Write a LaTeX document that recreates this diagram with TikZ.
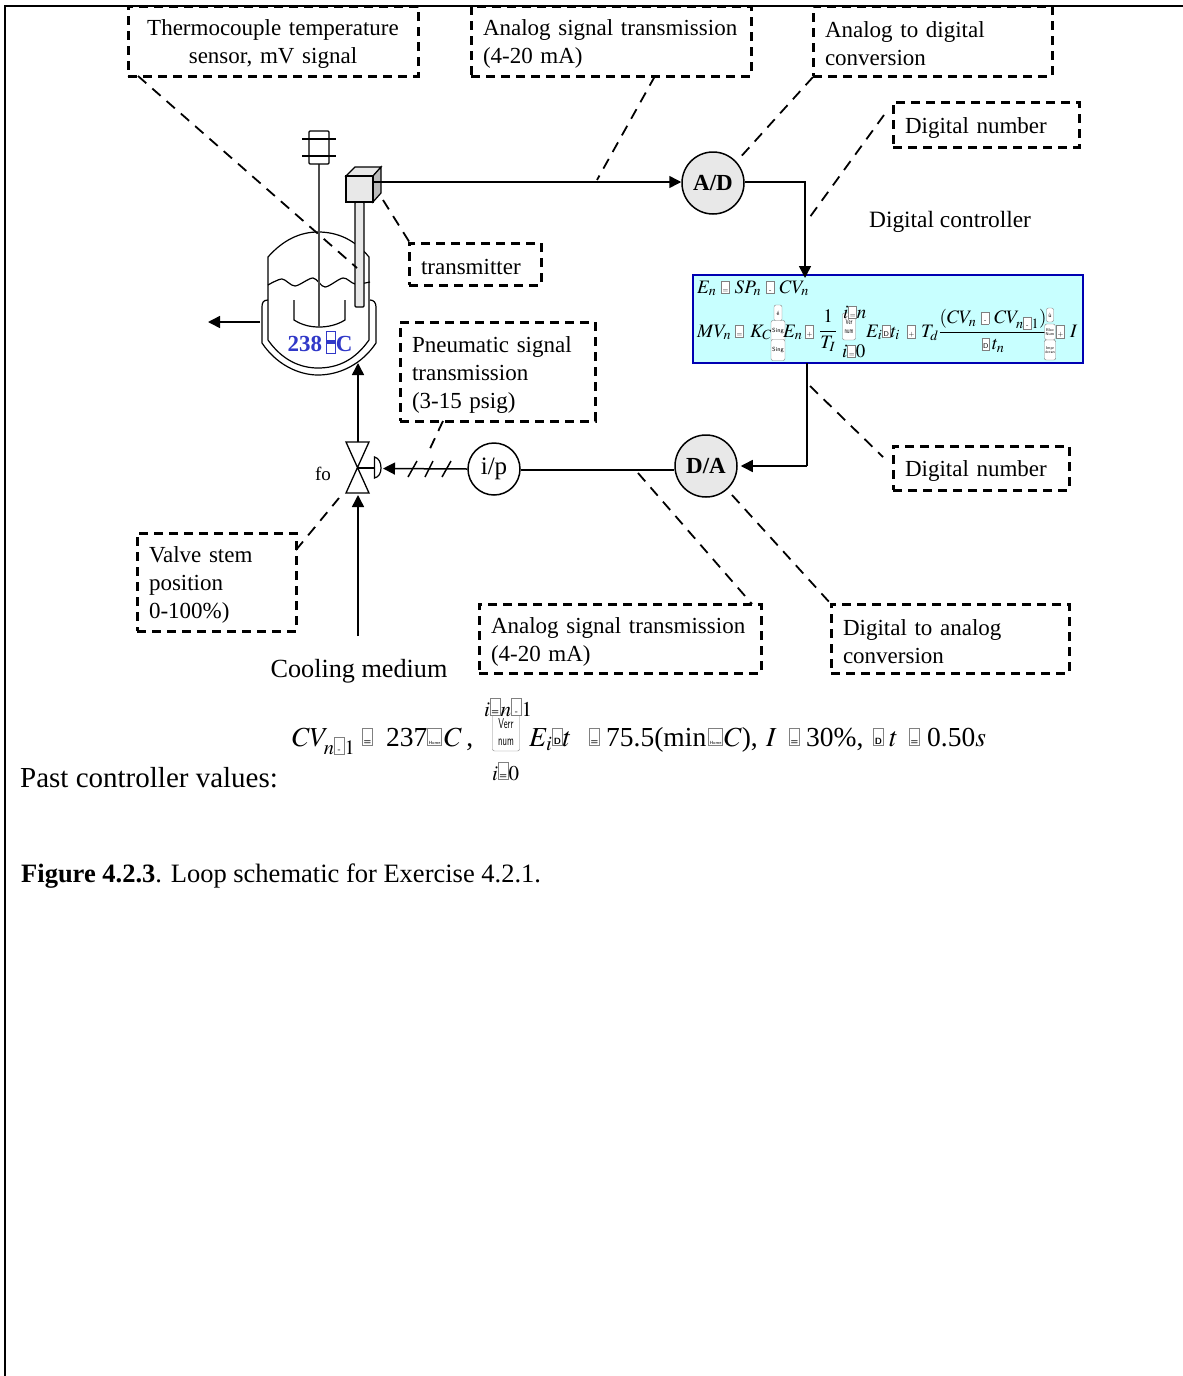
\documentclass[tikz,border=0pt]{standalone}
\usepackage{amsmath}
\usepackage{graphicx}
\usepackage{mathptmx}
\usepackage{fontspec}
\setmainfont{Liberation Serif}
\usetikzlibrary{arrows.meta,calc}
\definecolor{tempblue}{RGB}{48,56,200}
\definecolor{eqfill}{RGB}{200,255,255}
\tikzset{callout/.style={draw,line width=3pt,dash pattern=on 9pt off 6pt,inner xsep=12pt,inner ysep=0pt,align=left,font=\fontsize{23}{28}\selectfont,execute at begin node={\rule{0pt}{22pt}}}}
\tikzset{leader/.style={line width=1.8pt,dash pattern=on 11pt off 8pt}}
\tikzset{sig/.style={line width=1.5pt,-{Triangle[length=12pt,width=12pt]}}}
\tikzset{wire/.style={line width=1.5pt}}
\tikzset{conv/.style={draw,circle,line width=1.5pt,fill=black!9,minimum size=62pt,inner sep=0pt,font=\fontsize{23}{23}\selectfont\bfseries}}
\tikzset{plain/.style={inner sep=0pt,font=\fontsize{23.4}{28}\selectfont}}
\tikzset{eqs/.style={inner sep=0pt,anchor=base west,font=\fontsize{19}{21}\selectfont}}
\tikzset{eqb/.style={inner sep=0pt,anchor=base west,font=\fontsize{27.5}{30}\selectfont}}
\tikzset{keycap/.style={draw=black!50,fill=white,rounded corners=2pt,inner sep=1pt,align=center,font=\fontsize{6}{7}\sffamily}}
\tikzset{vessel/.style={line width=1.2pt}}
\newcommand{\gly}[1]{\mbox{\raisebox{1pt}{\setlength{\fboxsep}{1.2pt}\setlength{\fboxrule}{0.5pt}\fcolorbox{black!50}{white}{\fontsize{7}{7}\sffamily\rule{0pt}{9pt}\makebox[5pt]{#1}}}}}
\newcommand{\glyb}[1]{\mbox{\raisebox{2pt}{\setlength{\fboxsep}{1.2pt}\setlength{\fboxrule}{0.6pt}\fcolorbox{black!50}{white}{\fontsize{9}{9}\sffamily\bfseries\rule{0pt}{14pt}\makebox[7pt]{#1}}}}}
\newcommand{\glyh}[1]{\mbox{\raisebox{2pt}{\setlength{\fboxsep}{1pt}\setlength{\fboxrule}{0.6pt}\fcolorbox{black!50}{white}{\fontsize{4.5}{5}\sffamily\rule{0pt}{14pt}#1}}}}
\newcommand{\degbox}{\raisebox{-2pt}{\setlength{\fboxsep}{0pt}\setlength{\fboxrule}{1pt}\fcolorbox{tempblue}{white}{\rule{0pt}{21pt}\rule[9pt]{8pt}{4pt}}}}
\begin{document}
\begin{tikzpicture}[x=1pt,y=-1pt]
    \useasboundingbox (0,0) rectangle (1183,1376);
    \draw[line width=2pt] (5,1376) -- (5,5.5) -- (1183,5.5);
    % callouts
    \node[callout,minimum width=290pt,minimum height=70pt,text width=266pt,align=center] (sensorbox) at (273,41) {Thermocouple temperature\\sensor, mV signal};
    \node[callout,minimum width=280pt,minimum height=70pt,text width=256pt] (txbox) at (611,41) {Analog signal transmission\\(4-20 mA)};
    \node[callout,minimum width=239pt,minimum height=70pt,text width=215pt] (adbox) at (932.5,41) {Analog to digital\\conversion};
    \node[callout,minimum width=186pt,minimum height=45pt,text width=162pt] (numbox) at (986,124.5) {Digital number};
    \node[callout,minimum width=132pt,minimum height=42pt,text width=108pt] (xmtbox) at (475,264) {transmitter};
    \node[callout,minimum width=195pt,minimum height=99pt,text width=171pt] (pneubox) at (497.5,371.5) {Pneumatic signal\\transmission\\(3-15 psig)};
    \node[callout,minimum width=159pt,minimum height=98pt,text width=135pt] (stembox) at (216.5,582) {Valve stem\\position\\0-100\%)};
    \node[callout,minimum width=282pt,minimum height=69pt,text width=258pt] (rxbox) at (620,638.5) {Analog signal transmission\\(4-20 mA)};
    \node[callout,minimum width=238pt,minimum height=69pt,text width=214pt] (dabox) at (950,638.5) {Digital to analog\\conversion};
    \node[callout,minimum width=176pt,minimum height=44pt,text width=152pt] (outbox) at (981,468) {Digital number};
    \node[plain] (ctrl) at (950,222) {Digital controller};
    \node[plain,font=\fontsize{26.2}{28}\selectfont] (cool) at (359,671) {Cooling medium};
    \node[plain,font=\fontsize{19}{22}\selectfont] (fo) at (323,474) {fo};
    % vessel
    \draw[vessel,fill=white] (268,340) -- (268,257) .. controls (283,240) and (300,232) .. (318,232) .. controls (338,232) and (355,240) .. (369,257) -- (369,340) .. controls (355,360) and (338,368) .. (318,368) .. controls (300,368) and (282,360) .. (268,340);
    \draw[vessel] (268,300) .. controls (263,300) and (262,303) .. (262,307) -- (262,343) .. controls (276,364) and (298,375) .. (318,375) .. controls (340,375) and (362,364) .. (376,343) -- (376,307) .. controls (376,303) and (374,300) .. (370,300);
    \draw[vessel] plot[smooth] coordinates {(268,285) (282,279) (295,286) (313,278) (325,287) (343,278) (355,284) (370,282)};
    \draw[vessel] (294,300) -- (294,320) .. controls (302,325) and (310,327) .. (319,327) .. controls (328,327) and (337,325) .. (345,320) -- (345,300);
    \draw[vessel,black!70] (319,164) -- (319,327);
    \draw[vessel,fill=white,rounded corners=1pt] (309,131) rectangle (329,164);
    \draw[vessel] (302,139) -- (336,139) (302,156) -- (336,156);
    % transmitter
    \draw[vessel,fill=black!9,rounded corners=1pt] (355,202) rectangle (364,307);
    \draw[vessel,fill=black!9] (346,176) -- (355,167) -- (381,167) -- (373,176) -- cycle;
    \draw[vessel,fill=black!27] (373,176) -- (381,167) -- (381,193) -- (373,202) -- cycle;
    \draw[vessel,fill=black!9] (346,176) rectangle (373,202);
    \node[inner sep=0pt,anchor=base,font=\fontsize{23}{23}\selectfont\bfseries\color{tempblue}] (temp) at (320,351) {238\,\degbox C};
    % valve
    \draw[vessel,line width=1.3pt] (346,442) -- (369,442) -- (346,493) -- (369,493) -- cycle;
    \draw[vessel] (358,468) -- (374.5,468);
    \draw[vessel] (374.5,457) .. controls (379,458) and (381,463) .. (381,468) .. controls (381,473) and (379,477) .. (374.5,478) -- cycle;
    % converters and wires
    \node[conv] (ad) at (713,183) {A/D};
    \node[conv] (da) at (706,466) {D/A};
    \node[draw,circle,line width=1.5pt,minimum size=52pt,inner sep=0pt,font=\fontsize{25}{25}\selectfont] (ip) at (494,469) {i/p};
    \node[draw=blue!70!black,line width=1.3pt,fill=eqfill,minimum width=390pt,minimum height=88pt] (eqbox) at (888,319) {};
    \coordinate (xmt) at (374,182);
    \coordinate (act) at (383,468.5);
    \coordinate (cooltop) at (358,495);
    \coordinate (coolend) at (358,636);
    \coordinate (valvetop) at (358,442);
    \coordinate (jacket) at (358,363);
    \coordinate (outlet) at (260,322);
    \coordinate (outtip) at (208,322);
    \draw[sig] (xmt) -- (ad.west |- xmt);
    \draw[sig] (ad.east |- 0,182) -- (805,182) -- (805,278);
    \draw[wire] (807,363) -- (807,466);
    \draw[sig] (807,466) -- ($(da.east)+(3,0)$);
    \draw[wire] (da.west |- 0,470) -- (ip.east |- 0,470);
    \draw[sig] (ip.west) -- (act);
    \draw[wire] (408,477) -- (417,461) (425,477) -- (433,461) (442,477) -- (451,461);
    \draw[sig] (valvetop) -- (jacket);
    \draw[sig] (coolend) -- (cooltop);
    \draw[sig] (outlet) -- (outtip);
    % leaders
    \draw[leader] (138,76) -- (357,268);
    \draw[leader] (655,76) -- (597,180);
    \draw[leader] (813,77) -- (737,161);
    \draw[leader] (884,115) -- (807,221);
    \draw[leader] (383,200) -- (410,243);
    \draw[leader] (443,421) -- (427,455);
    \draw[leader] (296,550) -- (339,498);
    \draw[leader] (638,473) -- (752,604);
    \draw[leader] (732,495) -- (831,604);
    \draw[leader] (810,386) -- (883,457);
    % equations in the box
    \node[eqs] (eqa) at (697,293) {$E_n$\hspace{5pt}\gly{=}\hspace{5pt}$SP_n$\hspace{5pt}\gly{-}\hspace{5pt}$CV_n$};
    \node[eqs] (mv) at (697,337) {$MV_n$};
    \node[eqs] (mveq) at (735,337) {\gly{=}};
    \node[eqs] (kc) at (750,337) {$K_C$};
    \node[keycap,minimum width=8pt,minimum height=16pt] (brla) at (778,313) {é};
    \node[keycap,minimum width=14pt,minimum height=21pt] (brlb) at (778,331) {Sing};
    \node[keycap,minimum width=14pt,minimum height=21pt] (brlc) at (778,350) {Sing};
    \node[eqs] (en) at (783,337) {$E_n$};
    \node[eqs] (plusa) at (805,337) {\gly{+}};
    \node[inner sep=0pt,font=\fontsize{19}{21}\selectfont] (inv) at (828,331) {$\dfrac{1}{T_I}$};
    \node[keycap,minimum width=13pt,minimum height=27pt] (suma) at (849,326.5) {\scalebox{0.75}[1.3]{Ver}\\[2pt]\scalebox{0.75}[1.3]{num}};
    \node[eqs] (sumn) at (843,318) {$i$\gly{=}$n$};
    \node[eqs] (sumb) at (842,357) {$i$\gly{=}$0$};
    \node[eqs] (ei) at (866,337) {$E_i$\gly{D}$t_i$};
    \node[eqs] (plusb) at (907,337) {\gly{+}};
    \node[eqs] (td) at (921,337) {$T_d$};
    \node[inner sep=0pt,font=\fontsize{19}{21}\selectfont] (deriv) at (993,331) {$\dfrac{(CV_n\ \gly{-}\ CV_{n\gly{-}1})}{\gly{D}\,t_n}$};
    \node[keycap,minimum width=7pt,minimum height=14pt] (brra) at (1050,315) {ù};
    \node[keycap,minimum width=7pt,minimum height=16pt,font=\fontsize{4}{4.5}\sffamily] (brrb) at (1050,332) {Bloc\\Num};
    \node[keycap,minimum width=7pt,minimum height=20pt,font=\fontsize{4}{4.5}\sffamily] (brrc) at (1050,350) {Impr\\écran};
    \node[eqs] (plusc) at (1056,337) {\gly{+}};
    \node[eqs] (ibias) at (1070,337) {$I$};
    % past values
    \node[eqb] (cv) at (292,746) {$CV_{n\glyb{-}1}$};
    \node[eqb] (cveq) at (362,746) {\glyb{=}};
    \node[eqb] (cvval) at (386,746) {237};
    \node[eqb] (cvdeg) at (427,746) {\glyh{Home}};
    \node[eqb] (cvc) at (444,746) {$C$\,,};
    \node[keycap,minimum height=38pt,minimum width=27pt,font=\fontsize{11}{13}\sffamily] (sumc) at (506,732) {\scalebox{0.8}[1.3]{Verr}\\[4pt]\scalebox{0.8}[1.3]{num}};
    \node[eqb,font=\fontsize{21}{22}\selectfont] (sumtop) at (484,716) {$i$\glyb{=}$n$\glyb{-}$1$};
    \node[eqb,font=\fontsize{21}{22}\selectfont] (sumbot) at (492,780) {$i$\glyb{=}$0$};
    \node[eqb] (eit) at (529,746) {$E_i$\glyb{D}$t$};
    \node[eqb] (ieq) at (589,746) {\glyb{=}};
    \node[eqb] (ival) at (606,746) {75.5(min};
    \node[eqb] (ideg) at (708,746) {\glyh{Home}};
    \node[eqb] (ic) at (724,746) {$C$),};
    \node[eqb] (bias) at (766,746) {$I$};
    \node[eqb] (biaseq) at (789,746) {\glyb{=}};
    \node[eqb] (biasval) at (806,746) {30\%,};
    \node[eqb] (dt) at (873,746) {\glyb{D}};
    \node[eqb] (dtt) at (889,746) {$t$};
    \node[eqb] (dteq) at (909,746) {\glyb{=}};
    \node[eqb] (dtval) at (927,746) {0.50$s$};
    \node[inner sep=0pt,anchor=base west,font=\fontsize{29}{30}\selectfont] (past) at (20,787) {Past controller values:};
    \node[inner sep=0pt,anchor=base west,font=\fontsize{26.5}{30}\selectfont] (caption) at (21,882) {\textbf{Figure 4.2.3}. Loop schematic for Exercise 4.2.1.};
\end{tikzpicture}
\end{document}
